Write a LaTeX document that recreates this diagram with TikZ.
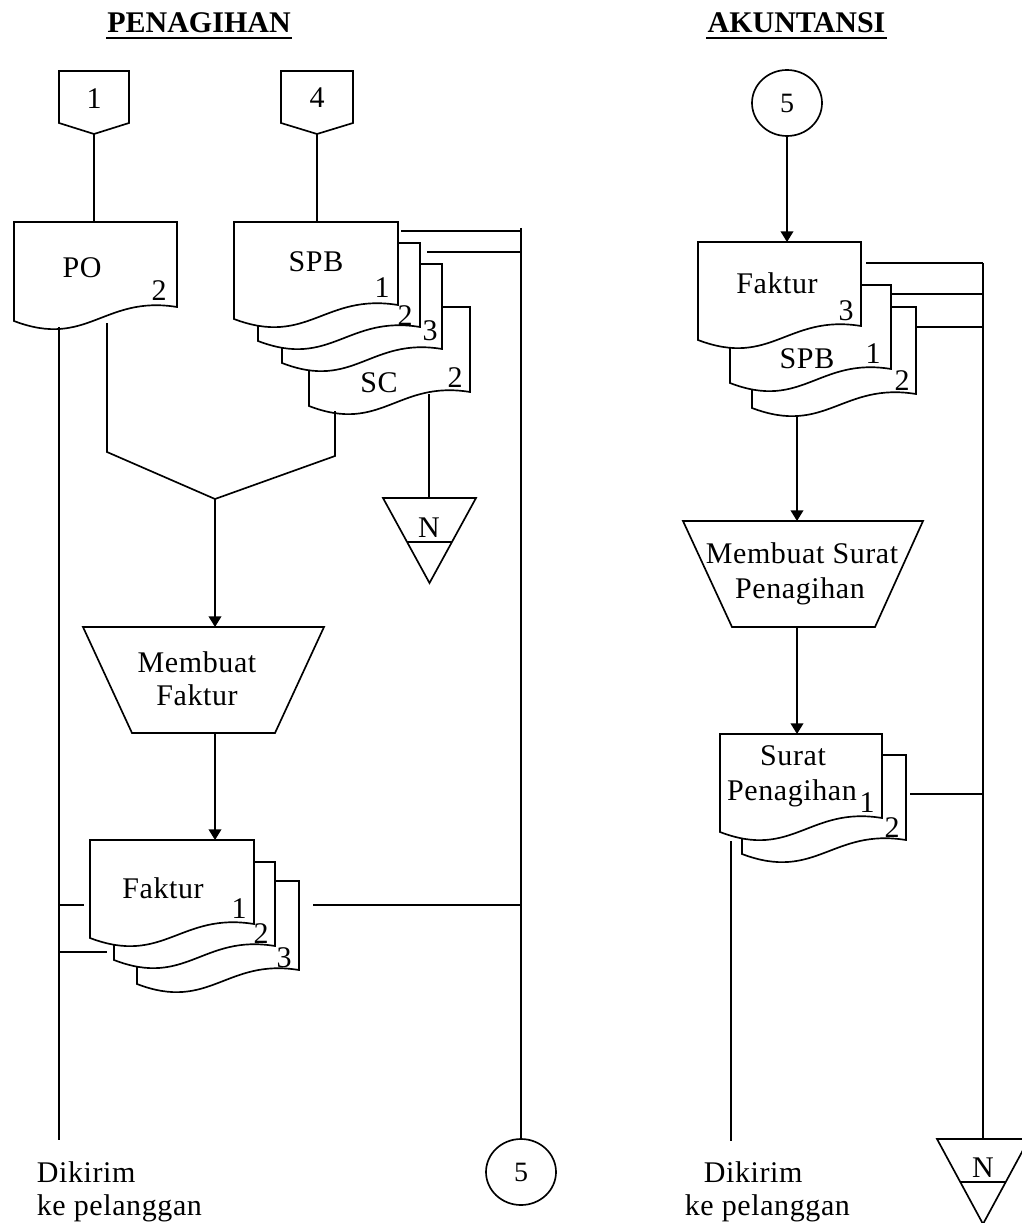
\documentclass[tikz,border=0pt]{standalone}
\usepackage{fontspec}
\setmainfont{Liberation Serif}
\newfontfamily\bodyf[LetterSpace=2]{Liberation Serif}
\usetikzlibrary{arrows.meta,shapes.geometric}
\newcommand{\docsh}[4]{%
  \pgfmathsetmacro{\dxa}{#1+0.45*(#2-#1)}%
  \pgfmathsetmacro{\dxb}{#1+0.55*(#2-#1)}%
  \pgfmathsetmacro{\dyl}{#4+14}%
  \pgfmathsetmacro{\dya}{#4+42}%
  \pgfmathsetmacro{\dyb}{#4-12}%
  \draw[doc] (#1,#3) -- (#2,#3) -- (#2,#4) .. controls (\dxb,\dyb) and (\dxa,\dya) .. (#1,\dyl) -- cycle;}
\begin{document}
\begin{tikzpicture}[x=0.75pt,y=-0.75pt,line width=1.25pt,
  doc/.style={draw=black,fill=white,line width=1.25pt},
  shp/.style={draw=black,fill=white,line width=1.25pt},
  lbl/.style={anchor=base,inner sep=0pt,font=\bodyf\fontsize{22.5}{27}\selectfont},
  lblw/.style={anchor=base west,inner sep=0pt,font=\bodyf\fontsize{22.5}{27}\selectfont},
  head/.style={anchor=base,inner sep=0pt,font=\fontsize{22.5}{27}\selectfont\bfseries},
  conn/.style={draw=black,fill=white,ellipse,line width=1.25pt,minimum width=52.5pt,minimum height=49.5pt,inner sep=0pt,font=\bodyf\fontsize{21}{25}\selectfont},
  arr/.style={-{Triangle[length=8pt,width=9.5pt]}}]
\useasboundingbox (0,0) rectangle (1021,1223);

% headings
\node[head] (hpen) at (199,33) {PENAGIHAN};
\node[head] (hakt) at (796.5,33) {AKUNTANSI};
\coordinate (ulpa) at (106,38); \coordinate (ulpb) at (292,38);
\coordinate (ulaa) at (706,38); \coordinate (ulab) at (887,38);
\draw[line width=2pt] (ulpa) -- (ulpb);
\draw[line width=2pt] (ulaa) -- (ulab);

% off-page connectors
\draw[shp] (59,71) -- (129,71) -- (129,123) -- (94,134) -- (59,123) -- cycle;
\draw[shp] (281,71) -- (353,71) -- (353,123) -- (317,134) -- (281,123) -- cycle;
\coordinate (op1) at (94,134);
\coordinate (op4) at (317,134);

% PENAGIHAN documents
\docsh{14}{177}{222}{307}
\docsh{309}{470}{307}{392}
\docsh{282}{442}{264}{349}
\docsh{258}{420}{243}{327}
\docsh{234}{398}{222}{305}
\docsh{137}{299}{881}{970}
\docsh{114}{275}{862}{946}
\docsh{90}{254}{840}{924}

% manual process
\draw[shp] (83,627) -- (324,627) -- (275,733) -- (132,733) -- cycle;

% file N
\draw[shp] (383,498) -- (476,498) -- (429.5,583) -- cycle;
\draw (407,542) -- (452,542);

% AKUNTANSI documents
\docsh{752}{916}{307}{394}
\docsh{730}{891}{285}{369}
\docsh{698}{861}{242}{326}
\docsh{742}{906}{755}{840}
\docsh{720}{882}{734}{818}
\draw[shp] (683,521) -- (923,521) -- (875,627) -- (732,627) -- cycle;
\draw[shp] (937,1139) -- (1029,1139) -- (983,1224) -- cycle;
\draw (960,1182) -- (1006,1182);

% connectors (circles)
\node[conn] (c5a) at (787,103) {5};
\node[conn] (c5b) at (521,1172) {5};

% named points
\coordinate (potop) at (94,222);
\coordinate (spbtop) at (317,222);
\coordinate (pol) at (59,327);
\coordinate (polend) at (59,1140);
\coordinate (f1l) at (84,905);
\coordinate (f2l) at (107,952);
\coordinate (pol1) at (59,905);
\coordinate (pol2) at (59,952);
\coordinate (pob) at (107,323);
\coordinate (pobk) at (107,452);
\coordinate (merge) at (215,499);
\coordinate (scb) at (335,411);
\coordinate (scbk) at (335,456);
\coordinate (mftop) at (215,627);
\coordinate (mfbot) at (215,733);
\coordinate (f1top) at (215,840);
\coordinate (scn) at (429,394);
\coordinate (ntop) at (429,498);
\coordinate (spb1r) at (401,231);
\coordinate (spb2r) at (427,252);
\coordinate (v5a) at (521,231);
\coordinate (v5b) at (521,252);
\coordinate (v5top) at (521,228);
\coordinate (f3r) at (313,905);
\coordinate (v5f) at (521,905);

\coordinate (rftop) at (787,242);
\coordinate (rf1) at (866,263);
\coordinate (rf2) at (892,294);
\coordinate (rf3) at (916,327);
\coordinate (vr1) at (983,263);
\coordinate (vr2) at (983,294);
\coordinate (vr3) at (983,327);
\coordinate (vrend) at (983,1139);
\coordinate (rspb) at (797,415);
\coordinate (mstop) at (797,521);
\coordinate (msbot) at (797,627);
\coordinate (sptop) at (797,734);
\coordinate (sp2r) at (910,794);
\coordinate (vr4) at (983,794);
\coordinate (spl) at (731,841);
\coordinate (splend) at (731,1141);

% lines
\draw (op1) -- (potop);
\draw (op4) -- (spbtop);
\draw (pol) -- (polend);
\draw (pol1) -- (f1l);
\draw (pol2) -- (f2l);
\draw (pob) -- (pobk) -- (merge);
\draw (scb) -- (scbk) -- (merge);
\draw[arr] (merge) -- (mftop);
\draw[arr] (mfbot) -- (f1top);
\draw (scn) -- (ntop);
\draw (spb1r) -- (v5a);
\draw (spb2r) -- (v5b);
\draw (v5top) -- (c5b.north);
\draw (f3r) -- (v5f);

\draw[arr] (c5a.south) -- (rftop);
\draw (rf1) -- (vr1);
\draw (rf2) -- (vr2);
\draw (rf3) -- (vr3);
\draw (vr1) -- (vrend);
\draw[arr] (rspb) -- (mstop);
\draw[arr] (msbot) -- (sptop);
\draw (sp2r) -- (vr4);
\draw (spl) -- (splend);

% labels
\node[lbl] (t1) at (94,109) {1};
\node[lbl] (t4) at (317,108) {4};
\node[lbl] (tpo) at (82,277) {PO};
\node[lbl] (tpo2) at (159,300) {2};
\node[lbl] (tspb) at (316,272) {SPB};
\node[lbl] (tspb1) at (382,297) {1};
\node[lbl] (tspb2) at (405,325) {2};
\node[lbl] (tspb3) at (430,340) {3};
\node[lbl] (tsc) at (379,392) {SC};
\node[lbl] (tsc2) at (455,387) {2};
\node[lbl] (tn1) at (429,537) {N};
\node[lbl] (tmf1) at (197,672) {Membuat};
\node[lbl] (tmf2) at (197,705) {Faktur};
\node[lbl] (tfk) at (163,898) {Faktur};
\node[lbl] (tfk1) at (239,918) {1};
\node[lbl] (tfk2) at (261,943) {2};
\node[lbl] (tfk3) at (284,967) {3};
\node[lblw] (td1) at (36,1182) {Dikirim};
\node[lblw] (td2) at (36,1215) {ke pelanggan};

\node[lbl] (trf) at (777,293) {Faktur};
\node[lbl] (trf3) at (846,320) {3};
\node[lbl] (trs) at (807,368) {SPB};
\node[lbl] (trs1) at (873,363) {1};
\node[lbl] (trs2) at (902,390) {2};
\node[lbl] (tms1) at (802,563) {Membuat Surat};
\node[lbl] (tms2) at (800,598) {Penagihan};
\node[lbl] (tsp1) at (793,765) {Surat};
\node[lbl] (tsp2) at (792,800) {Penagihan};
\node[lbl] (tsp3) at (867,812) {1};
\node[lbl] (tsp4) at (892,837) {2};
\node[lblw] (trd1) at (703,1182) {Dikirim};
\node[lblw] (trd2) at (684,1215) {ke pelanggan};
\node[lbl] (tn2) at (983,1177) {N};
\end{tikzpicture}
\end{document}
